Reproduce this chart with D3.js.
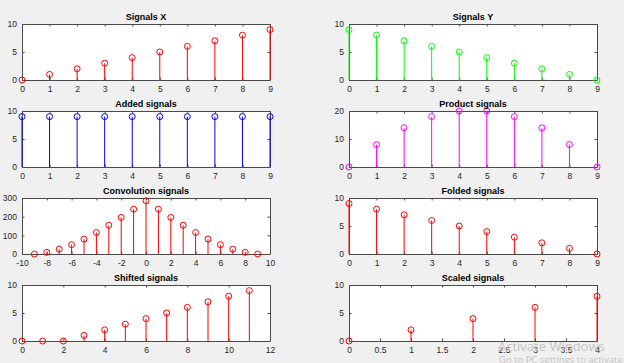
<!DOCTYPE html>
<html>
<head>
<meta charset="utf-8">
<script src="https://cdn.jsdelivr.net/npm/d3@7"></script>
<style>
  html, body { margin: 0; padding: 0; background: #f0f0f0; }
  svg { display: block; font-family: "Liberation Sans", Arial, sans-serif; }
  .tick text { fill: #262626; }
</style>
</head>
<body>
<svg id="chart" width="624" height="363"></svg>
<script>
// ── Data ────────────────────────────────────────────────────────────────
const n10 = [0, 1, 2, 3, 4, 5, 6, 7, 8, 9];
const sigX = [0, 1, 2, 3, 4, 5, 6, 7, 8, 9];
const sigY = [9, 8, 7, 6, 5, 4, 3, 2, 1, 0];
const added = [9, 9, 9, 9, 9, 9, 9, 9, 9, 9];
const product = [0, 8, 14, 18, 20, 20, 18, 14, 8, 0];
const convN = [-9, -8, -7, -6, -5, -4, -3, -2, -1, 0, 1, 2, 3, 4, 5, 6, 7, 8, 9];
const convVals = [0, 9, 26, 50, 80, 115, 154, 196, 240, 285, 240, 196, 154, 115, 80, 50, 26, 9, 0];
const folded = [9, 8, 7, 6, 5, 4, 3, 2, 1, 0];
const shiftN = [0, 1, 2, 3, 4, 5, 6, 7, 8, 9, 10, 11];
const shifted = [0, 0, 0, 1, 2, 3, 4, 5, 6, 7, 8, 9];
const scaleN = [0, 1, 2, 3, 4];
const scaled = [0, 2, 4, 6, 8];

const titles = ['Signals X', 'Signals Y', 'Added signals', 'Product signals',
  'Convolution signals', 'Folded signals', 'Shifted signals', 'Scaled signals'];

const ticks0to9 = [0, 1, 2, 3, 4, 5, 6, 7, 8, 9];
const ticksConv = [-10, -8, -6, -4, -2, 0, 2, 4, 6, 8, 10];
const ticksShift = [0, 2, 4, 6, 8, 10, 12];
const ticksScale = [0, 0.5, 1, 1.5, 2, 2.5, 3, 3.5, 4];
const yTicks10 = [0, 5, 10];
const yTicks20 = [0, 10, 20];
const yTicks300 = [0, 100, 200, 300];

const panels = [
  { title: titles[0], n: n10, v: sigX, xd: [0, 9], xt: ticks0to9, yd: [0, 10], yt: yTicks10, color: '#ff0000' },
  { title: titles[1], n: n10, v: sigY, xd: [0, 9], xt: ticks0to9, yd: [0, 10], yt: yTicks10, color: '#00ff00' },
  { title: titles[2], n: n10, v: added, xd: [0, 9], xt: ticks0to9, yd: [0, 10], yt: yTicks10, color: '#0000ff' },
  { title: titles[3], n: n10, v: product, xd: [0, 9], xt: ticks0to9, yd: [0, 20], yt: yTicks20, color: '#ff00ff' },
  { title: titles[4], n: convN, v: convVals, xd: [-10, 10], xt: ticksConv, yd: [0, 300], yt: yTicks300, color: '#ff0000' },
  { title: titles[5], n: n10, v: folded, xd: [0, 9], xt: ticks0to9, yd: [0, 10], yt: yTicks10, color: '#ff0000' },
  { title: titles[6], n: shiftN, v: shifted, xd: [0, 12], xt: ticksShift, yd: [0, 10], yt: yTicks10, color: '#ff0000' },
  { title: titles[7], n: scaleN, v: scaled, xd: [0, 4], xt: ticksScale, yd: [0, 10], yt: yTicks10, color: '#ff0000' },
];

// ── Layout ──────────────────────────────────────────────────────────────
const colX = [22, 349];
const rowY = [24, 111, 198, 285];
const W = 248, H = 56;
const AXIS = '#4a4a4a';

const svg = d3.select('#chart');

panels.forEach((p, i) => {
  const left = colX[i % 2], top = rowY[Math.floor(i / 2)];
  const x = d3.scaleLinear().domain(p.xd).range([0, W]);
  const y = d3.scaleLinear().domain(p.yd).range([H, 0]);
  const g = svg.append('g').attr('transform', `translate(${left},${top})`);

  g.append('rect').attr('width', W).attr('height', H).attr('fill', '#fff');

  // axes with inward ticks on all four sides
  const fmt = d => String(d);
  const styleAxis = sel => {
    sel.select('.domain').attr('stroke', AXIS);
    sel.selectAll('.tick line').attr('stroke', AXIS);
    sel.selectAll('.tick text').attr('font-size', 8.5);
  };
  g.append('g').attr('transform', `translate(0,${H})`)
    .call(d3.axisBottom(x).tickValues(p.xt).tickFormat(fmt).tickSizeInner(-2.5).tickSizeOuter(0).tickPadding(6))
    .call(styleAxis);
  g.append('g')
    .call(d3.axisTop(x).tickValues(p.xt).tickFormat('').tickSizeInner(-2.5).tickSizeOuter(0))
    .call(styleAxis);
  g.append('g')
    .call(d3.axisLeft(y).tickValues(p.yt).tickFormat(fmt).tickSizeInner(-2.5).tickSizeOuter(0).tickPadding(5))
    .call(styleAxis);
  g.append('g').attr('transform', `translate(${W},0)`)
    .call(d3.axisRight(y).tickValues(p.yt).tickFormat('').tickSizeInner(-2.5).tickSizeOuter(0))
    .call(styleAxis);

  // stems
  const pts = p.n.map((d, k) => ({ n: d, v: p.v[k] }));
  g.append('g').selectAll('line')
    .data(pts).join('line')
    .attr('x1', d => x(d.n)).attr('x2', d => x(d.n))
    .attr('y1', y(0)).attr('y2', d => y(d.v))
    .attr('stroke', p.color).attr('stroke-width', 1);

  g.append('g').selectAll('circle')
    .data(pts).join('circle')
    .attr('cx', d => x(d.n)).attr('cy', d => y(d.v))
    .attr('r', 3)
    .attr('fill', 'none')
    .attr('stroke', p.color).attr('stroke-width', 1);

  g.append('text')
    .attr('x', W / 2).attr('y', -4)
    .attr('text-anchor', 'middle')
    .attr('font-size', 9)
    .attr('font-weight', 'bold')
    .attr('fill', '#000')
    .text(p.title);
});

// screenshot watermark
svg.append('text').attr('x', 498).attr('y', 351)
  .attr('font-family', '"Open Sans", sans-serif').attr('font-size', 13)
  .attr('fill', '#c4c4c4').text('Activate Windows');
svg.append('text').attr('x', 499).attr('y', 363)
  .attr('font-family', '"Open Sans", sans-serif').attr('font-size', 9.5)
  .attr('fill', '#c4c4c4').text('Go to PC settings to activate Windows.');
</script>
</body>
</html>
